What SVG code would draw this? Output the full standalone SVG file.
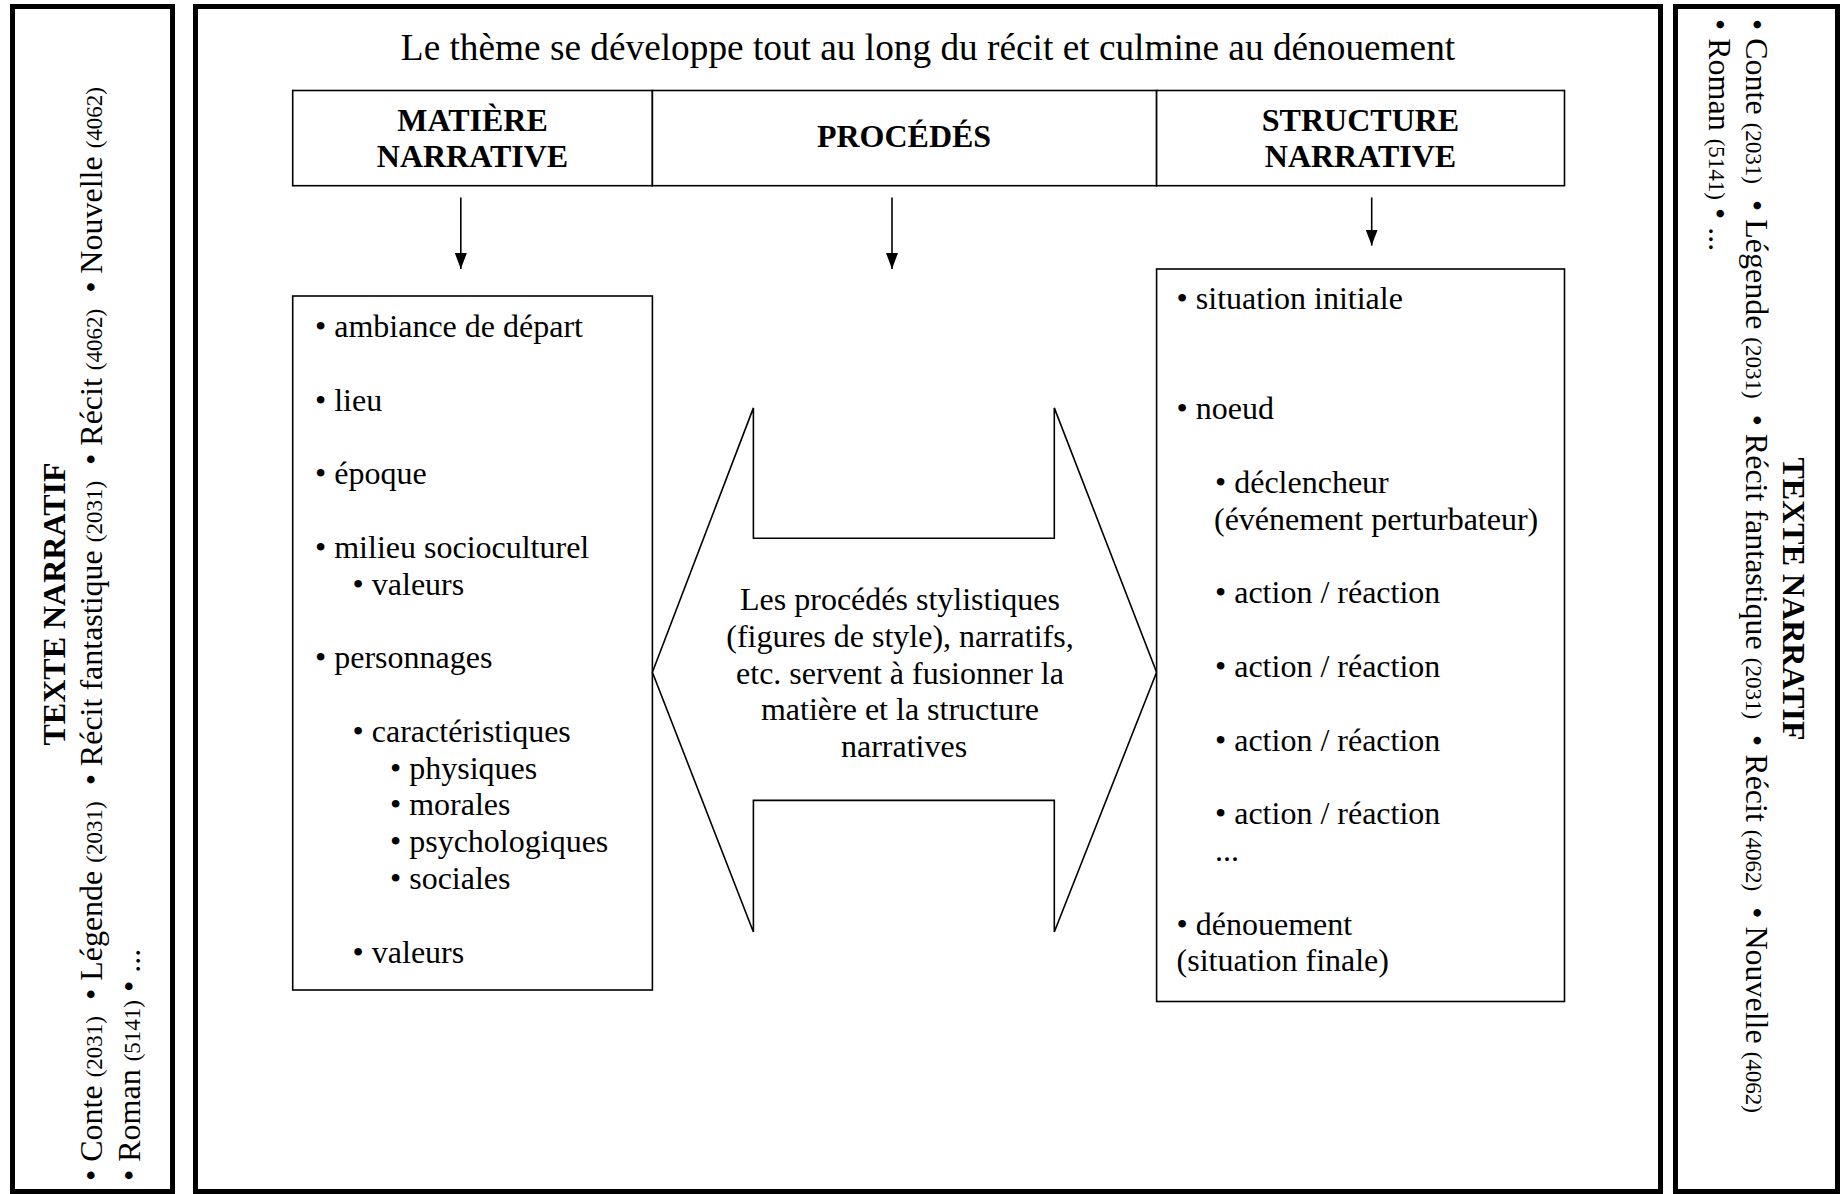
<svg xmlns="http://www.w3.org/2000/svg" width="1843" height="1194" viewBox="0 0 1843 1194">
<style>
  text { font-family: "Liberation Serif", "Times New Roman", serif; fill: #000; }
  .body { font-size: 32px; }
  .bold { font-size: 32px; font-weight: bold; }
  .title { font-size: 37.3px; }
  .num { font-size: 23px; }
  .panel { fill: #fff; stroke: #000; stroke-width: 5; }
  .box { fill: #fff; stroke: #000; stroke-width: 1.6; }
  .conn { stroke: #000; stroke-width: 1.6; fill: none; }
</style>
<defs>
  <marker id="ah" markerUnits="userSpaceOnUse" markerWidth="16" markerHeight="12" refX="16" refY="6" orient="auto">
    <path d="M0,0 L16,6 L0,12 z" fill="#000"/>
  </marker>
</defs>
<rect width="1843" height="1194" fill="#fff"/>

<g id="left-panel">
  <rect class="panel" x="12.5" y="6.5" width="160" height="1185"/>
  <text class="bold" transform="rotate(-90)" x="-604" y="65" text-anchor="middle">TEXTE NARRATIF</text>
  <text class="body" transform="rotate(-90)" x="-1181" y="102">• Conte <tspan class="num">(2031)</tspan>&#160; • Légende <tspan class="num">(2031)</tspan>&#160; • Récit fantastique <tspan class="num">(2031)</tspan>&#160; • Récit <tspan class="num">(4062)</tspan>&#160; • Nouvelle <tspan class="num">(4062)</tspan></text>
  <text class="body" transform="rotate(-90)" x="-1181" y="140">• Roman <tspan class="num">(5141)</tspan> • ...</text>
</g>

<g id="middle-panel">
  <rect class="panel" x="195.5" y="6.5" width="1465" height="1185"/>
  <text class="title" x="928" y="59.5" text-anchor="middle">Le thème se développe tout au long du récit et culmine au dénouement</text>
</g>

<g id="header-matiere">
  <rect class="box" x="292.7" y="90.5" width="359.7" height="95.2"/>
  <text class="bold" text-anchor="middle"><tspan x="472.5" y="130.6">MATIÈRE</tspan><tspan x="472.5" y="167">NARRATIVE</tspan></text>
</g>
<g id="header-procedes">
  <rect class="box" x="652.4" y="90.5" width="504.2" height="95.2"/>
  <text class="bold" x="904" y="147" text-anchor="middle">PROCÉDÉS</text>
</g>
<g id="header-structure">
  <rect class="box" x="1156.6" y="90.5" width="407.9" height="95.2"/>
  <text class="bold" text-anchor="middle"><tspan x="1360.5" y="130.6">STRUCTURE</tspan><tspan x="1360.5" y="167">NARRATIVE</tspan></text>
</g>

<g id="connectors">
  <line class="conn" x1="460.8" y1="197.5" x2="460.8" y2="269" marker-end="url(#ah)"/>
  <line class="conn" x1="892" y1="197.5" x2="892" y2="269" marker-end="url(#ah)"/>
  <line class="conn" x1="1371.7" y1="197.5" x2="1371.7" y2="245.6" marker-end="url(#ah)"/>
</g>

<g id="matiere-box">
  <rect class="box" x="292.7" y="296" width="359.7" height="694"/>
  <text class="body">
    <tspan x="315" y="337">• ambiance de départ</tspan>
    <tspan x="315" y="410.6">• lieu</tspan>
    <tspan x="315" y="484.2">• époque</tspan>
    <tspan x="315" y="557.8">• milieu socioculturel</tspan>
    <tspan x="352.6" y="594.6">• valeurs</tspan>
    <tspan x="315" y="668.2">• personnages</tspan>
    <tspan x="352.6" y="741.8">• caractéristiques</tspan>
    <tspan x="390" y="778.6">• physiques</tspan>
    <tspan x="390" y="815.4">• morales</tspan>
    <tspan x="390" y="852.2">• psychologiques</tspan>
    <tspan x="390" y="889">• sociales</tspan>
    <tspan x="352.6" y="962.6">• valeurs</tspan>
  </text>
</g>

<g id="procedes-arrow">
  <polygon class="box" points="652.4,672.3 753.4,407.9 753.4,538.3 1054.3,538.3 1054.3,407.9 1156.6,672.3 1054.3,932 1054.3,800.4 753.4,800.4 753.4,932"/>
  <text class="body" text-anchor="middle">
    <tspan x="904" y="610">Les procédés stylistiques</tspan>
    <tspan x="904" y="646.8">(figures de style), narratifs,</tspan>
    <tspan x="904" y="683.6">etc. servent à fusionner la</tspan>
    <tspan x="904" y="720.4">matière et la structure</tspan>
    <tspan x="904" y="757.2">narratives</tspan>
  </text>
</g>

<g id="structure-box">
  <rect class="box" x="1156.6" y="269" width="407.9" height="732.5"/>
  <text class="body">
    <tspan x="1176.6" y="309">• situation initiale</tspan>
    <tspan x="1176.6" y="419.4">• noeud</tspan>
    <tspan x="1215" y="493">• déclencheur</tspan>
    <tspan x="1214" y="529.8">(événement perturbateur)</tspan>
    <tspan x="1215" y="603.4">• action / réaction</tspan>
    <tspan x="1215" y="677">• action / réaction</tspan>
    <tspan x="1215" y="750.6">• action / réaction</tspan>
    <tspan x="1215" y="824.2">• action / réaction</tspan>
    <tspan x="1215" y="861">...</tspan>
    <tspan x="1176.6" y="934.6">• dénouement</tspan>
    <tspan x="1176.6" y="971.4">(situation finale)</tspan>
  </text>
</g>

<g id="right-panel">
  <rect class="panel" x="1675.5" y="6.5" width="162" height="1185"/>
  <text class="bold" transform="rotate(90)" x="599" y="-1783" text-anchor="middle">TEXTE NARRATIF</text>
  <text class="body" transform="rotate(90)" x="19" y="-1746">• Conte <tspan class="num">(2031)</tspan>&#160; • Légende <tspan class="num">(2031)</tspan>&#160; • Récit fantastique <tspan class="num">(2031)</tspan>&#160; • Récit <tspan class="num">(4062)</tspan>&#160; • Nouvelle <tspan class="num">(4062)</tspan></text>
  <text class="body" transform="rotate(90)" x="19" y="-1709">• Roman <tspan class="num">(5141)</tspan> • ...</text>
</g>
</svg>
